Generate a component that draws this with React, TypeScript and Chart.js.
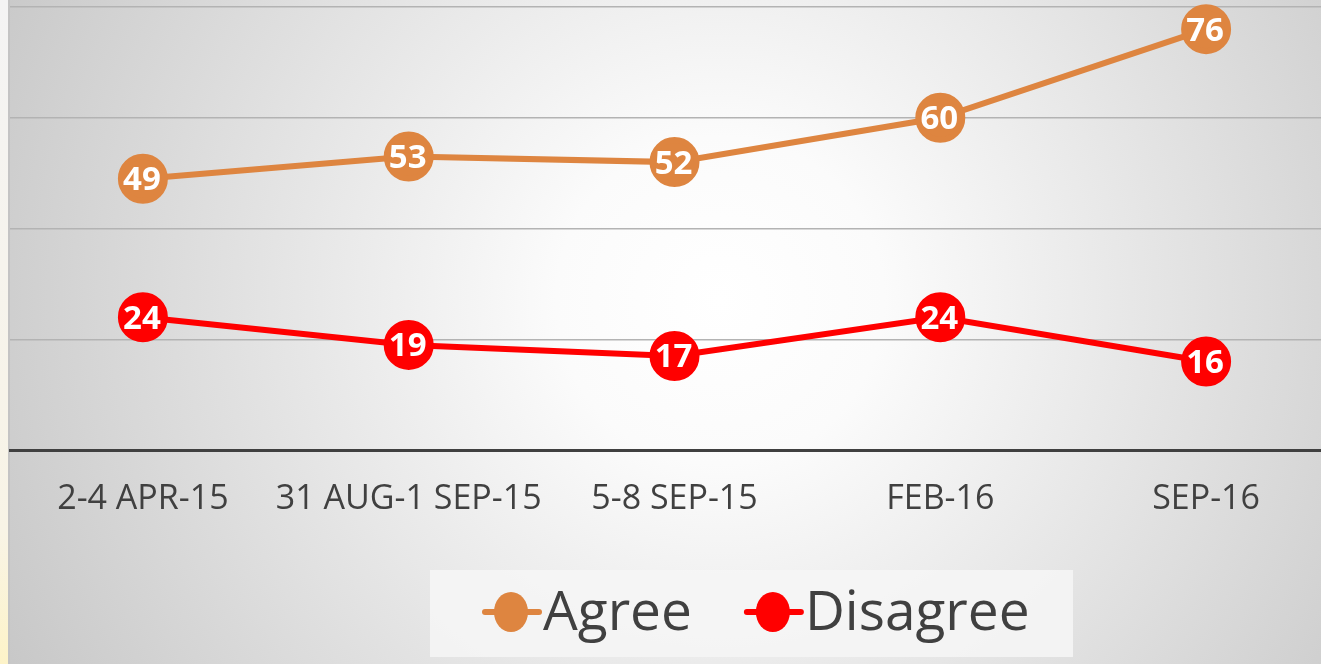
import React, { useEffect, useRef } from "react";
import { Chart, registerables } from "chart.js";

Chart.register(...registerables);

const categories = ["2-4 APR-15", "31 AUG-1 SEP-15", "5-8 SEP-15", "FEB-16", "SEP-16"];
const agree = [49, 53, 52, 60, 76];
const disagree = [24, 19, 17, 24, 16];
const yTicks = [0, 20, 40, 60, 80];
const seriesNames = ["Agree", "Disagree"];
const seriesColors = ["#DE8540", "#FF0000"];

const CANVAS_W = 1345;
const CANVAS_H = 664;
const FONT = '"Open Sans", "DejaVu Sans", sans-serif';

export default function App() {
  const ref = useRef<HTMLCanvasElement>(null);

  useEffect(() => {
    if (!ref.current) return;

    const bgPlugin = {
      id: "bgPlugin",
      beforeDraw(chart: any) {
        const ctx = chart.ctx;
        ctx.save();
        const g = ctx.createRadialGradient(720, 300, 0, 720, 300, 820);
        g.addColorStop(0, "#ffffff");
        g.addColorStop(0.2, "#fbfbfb");
        g.addColorStop(1, "#c6c6c6");
        ctx.fillStyle = g;
        ctx.fillRect(0, 0, chart.width, chart.height);
        const s = ctx.createLinearGradient(0, 0, 0, chart.height);
        s.addColorStop(0, "#f4f4f4");
        s.addColorStop(0.8, "#f8f4e6");
        s.addColorStop(1, "#fdf3c8");
        ctx.fillStyle = s;
        ctx.fillRect(0, 0, 8, chart.height);
        ctx.fillStyle = "#c4c4c4";
        ctx.fillRect(8, 0, 2, chart.height);
        ctx.restore();
      },
    };

    const labelPlugin = {
      id: "labelPlugin",
      afterDatasetsDraw(chart: any) {
        const ctx = chart.ctx;
        ctx.save();
        ctx.fillStyle = "#ffffff";
        ctx.font = `bold 33px ${FONT}`;
        ctx.textAlign = "center";
        ctx.textBaseline = "middle";
        chart.data.datasets.forEach((ds: any, di: number) => {
          const meta = chart.getDatasetMeta(di);
          meta.data.forEach((pt: any, i: number) => {
            ctx.fillText(String(ds.data[i]), pt.x - 1, pt.y + 2);
          });
        });
        ctx.restore();
      },
    };

    const legendPlugin = {
      id: "legendPlugin",
      afterDraw(chart: any) {
        const ctx = chart.ctx;
        ctx.save();
        ctx.fillStyle = "rgba(246,246,246,0.85)";
        ctx.fillRect(430, 570, 643, 87);
        ctx.font = `55px ${FONT}`;
        ctx.textBaseline = "middle";
        ctx.textAlign = "left";
        let x = 483;
        const cy = 612;
        seriesNames.forEach((name, i) => {
          const c = seriesColors[i];
          ctx.strokeStyle = c;
          ctx.lineWidth = 6;
          ctx.lineCap = "round";
          ctx.beginPath();
          ctx.moveTo(x + 2, cy);
          ctx.lineTo(x + 56, cy);
          ctx.stroke();
          ctx.fillStyle = c;
          ctx.beginPath();
          ctx.ellipse(x + 28, cy, 17, 20, 0, 0, Math.PI * 2);
          ctx.fill();
          ctx.fillStyle = "#404040";
          ctx.fillText(name, x + 60, cy + 2);
          const w = ctx.measureText(name).width;
          x = x + 60 + w + 53;
        });
        ctx.restore();
      },
    };

    const chart = new Chart(ref.current, {
      type: "line",
      data: {
        labels: categories,
        datasets: [
          {
            label: seriesNames[0],
            data: agree,
            borderColor: seriesColors[0],
            backgroundColor: seriesColors[0],
            pointBackgroundColor: seriesColors[0],
            pointBorderColor: seriesColors[0],
            borderWidth: 6,
            pointRadius: 22,
            pointHoverRadius: 22,
            tension: 0,
            fill: false,
            clip: false,
          },
          {
            label: seriesNames[1],
            data: disagree,
            borderColor: seriesColors[1],
            backgroundColor: seriesColors[1],
            pointBackgroundColor: seriesColors[1],
            pointBorderColor: seriesColors[1],
            borderWidth: 6,
            pointRadius: 22,
            pointHoverRadius: 22,
            tension: 0,
            fill: false,
            clip: false,
          },
        ],
      },
      options: {
        responsive: false,
        animation: false,
        events: [],
        layout: { autoPadding: false, padding: { left: 10, right: 6, top: 7, bottom: 115 } },
        plugins: {
          legend: { display: false },
          tooltip: { enabled: false },
        },
        scales: {
          x: {
            offset: true,
            grid: { display: false, drawTicks: false },
            border: { display: true, color: "#404040", width: 3 },
            ticks: {
              color: "#404040",
              font: { family: FONT, size: 34 },
              padding: 29,
              maxRotation: 0,
              autoSkip: false,
            },
          },
          y: {
            min: 0,
            max: 80,
            afterBuildTicks: (scale: any) => {
              scale.ticks = yTicks.map((v) => ({ value: v }));
            },
            grid: {
              drawTicks: false,
              color: (c: any) => (c.tick && c.tick.value === 0 ? "rgba(0,0,0,0)" : "#b3b3b3"),
              lineWidth: 1.5,
            },
            border: { display: false },
            ticks: { display: false },
          },
        },
      },
      plugins: [bgPlugin, labelPlugin, legendPlugin],
    });

    return () => chart.destroy();
  }, []);

  return (
    <div style={{ position: "fixed", left: 0, top: 0, width: 1321, height: 664, overflow: "hidden" }}>
      <canvas ref={ref} width={CANVAS_W} height={CANVAS_H} style={{ display: "block" }} />
    </div>
  );
}
